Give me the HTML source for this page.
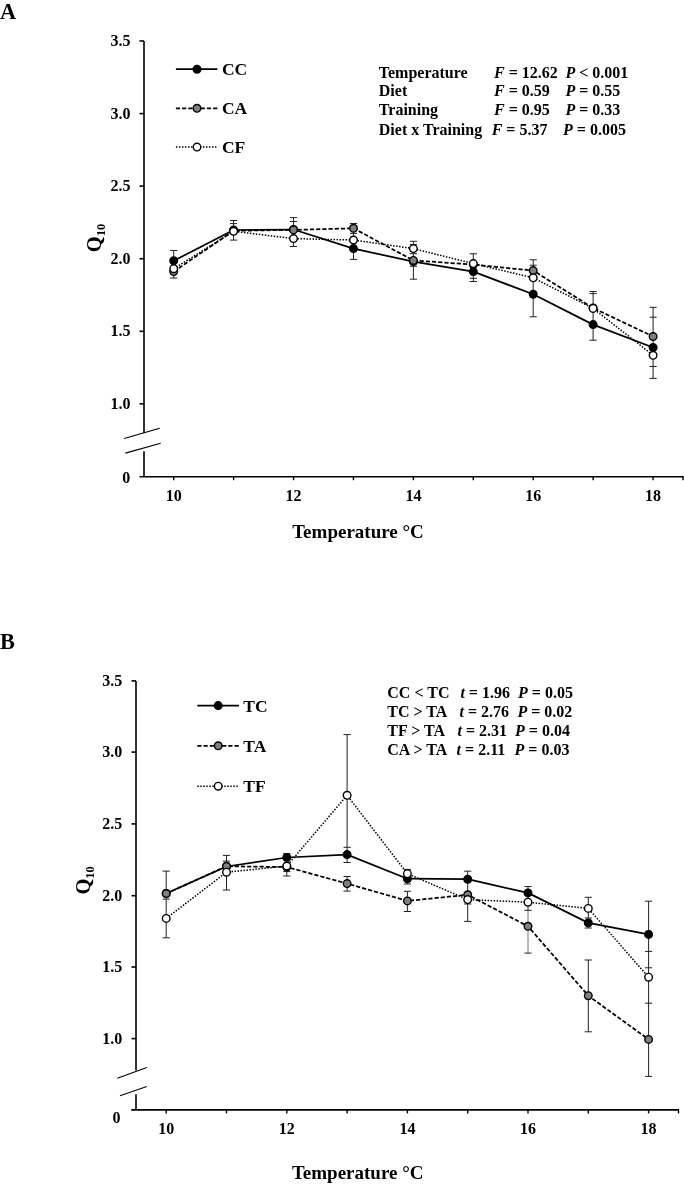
<!DOCTYPE html>
<html><head><meta charset="utf-8"><style>
html,body{margin:0;padding:0;background:#fff;}
svg{display:block;will-change:transform;font-family:"Liberation Serif", serif;font-weight:bold;}
</style></head><body>
<svg width="684" height="1185" viewBox="0 0 684 1185">
<rect width="684" height="1185" fill="#fff"/>
<text x="0.0" y="18.7" font-size="22.3" text-anchor="start" style="" >A</text>
<path d="M144,41 V432.9 M144,451.2 V476.7" stroke="#000" stroke-width="1.6" fill="none"/>
<path d="M139.5,476.7 H683.7" stroke="#000" stroke-width="1.6" fill="none"/>
<path d="M139.5,41.0 H144" stroke="#000" stroke-width="1.6"/>
<path d="M139.5,113.6 H144" stroke="#000" stroke-width="1.6"/>
<path d="M139.5,186.1 H144" stroke="#000" stroke-width="1.6"/>
<path d="M139.5,258.7 H144" stroke="#000" stroke-width="1.6"/>
<path d="M139.5,331.3 H144" stroke="#000" stroke-width="1.6"/>
<path d="M139.5,403.8 H144" stroke="#000" stroke-width="1.6"/>
<path d="M173.7,476.7 V480.2" stroke="#000" stroke-width="1.4"/>
<path d="M233.62,476.7 V480.2" stroke="#000" stroke-width="1.4"/>
<path d="M293.53999999999996,476.7 V480.2" stroke="#000" stroke-width="1.4"/>
<path d="M353.46,476.7 V480.2" stroke="#000" stroke-width="1.4"/>
<path d="M413.38,476.7 V480.2" stroke="#000" stroke-width="1.4"/>
<path d="M473.3,476.7 V480.2" stroke="#000" stroke-width="1.4"/>
<path d="M533.22,476.7 V480.2" stroke="#000" stroke-width="1.4"/>
<path d="M593.14,476.7 V480.2" stroke="#000" stroke-width="1.4"/>
<path d="M653.06,476.7 V480.2" stroke="#000" stroke-width="1.4"/>
<path d="M683.0,476.7 V480.2" stroke="#000" stroke-width="1.4"/>
<path d="M124.2,438.5 L159.7,428.2" stroke="#000" stroke-width="1.1"/>
<path d="M125.4,453.1 L160.7,443.3" stroke="#000" stroke-width="1.1"/>
<text x="130.5" y="45.9" font-size="16" text-anchor="end" style="" >3.5</text>
<text x="130.5" y="118.5" font-size="16" text-anchor="end" style="" >3.0</text>
<text x="130.5" y="191.0" font-size="16" text-anchor="end" style="" >2.5</text>
<text x="130.5" y="263.6" font-size="16" text-anchor="end" style="" >2.0</text>
<text x="130.5" y="336.2" font-size="16" text-anchor="end" style="" >1.5</text>
<text x="130.5" y="408.7" font-size="16" text-anchor="end" style="" >1.0</text>
<text x="130.3" y="483.4" font-size="16" text-anchor="end" style="" >0</text>
<text x="173.7" y="500.7" font-size="16" text-anchor="middle" style="" >10</text>
<text x="293.5" y="500.7" font-size="16" text-anchor="middle" style="" >12</text>
<text x="413.4" y="500.7" font-size="16" text-anchor="middle" style="" >14</text>
<text x="533.2" y="500.7" font-size="16" text-anchor="middle" style="" >16</text>
<text x="653.1" y="500.7" font-size="16" text-anchor="middle" style="" >18</text>
<text x="358.0" y="537.6" font-size="19" text-anchor="middle" style="" >Temperature °C</text>
<text transform="translate(101.3,252.3) rotate(-90)" font-size="20.5">Q<tspan font-size="12.5" dy="3.5">10</tspan></text>
<path d="M173.7,250.5 V278.0" stroke="#222" stroke-width="1.0" fill="none"/>
<path d="M170.1,250.5 H177.3 M170.1,278.0 H177.3" stroke="#222" stroke-width="1.0" fill="none"/>
<path d="M233.6,220.5 V240.1" stroke="#222" stroke-width="1.0" fill="none"/>
<path d="M230.0,220.5 H237.2 M230.0,223.6 H237.2 M230.0,240.1 H237.2" stroke="#222" stroke-width="1.0" fill="none"/>
<path d="M293.5,217.6 V246.5" stroke="#222" stroke-width="1.0" fill="none"/>
<path d="M289.9,217.6 H297.1 M289.9,221.5 H297.1 M289.9,246.5 H297.1" stroke="#222" stroke-width="1.0" fill="none"/>
<path d="M353.5,223.5 V259.4" stroke="#222" stroke-width="1.0" fill="none"/>
<path d="M349.9,223.5 H357.1 M349.9,233.4 H357.1 M349.9,259.4 H357.1" stroke="#222" stroke-width="1.0" fill="none"/>
<path d="M413.4,241.3 V279.2" stroke="#222" stroke-width="1.0" fill="none"/>
<path d="M409.8,241.3 H417.0 M409.8,244.6 H417.0 M409.8,253.7 H417.0 M409.8,266.3 H417.0 M409.8,279.2 H417.0" stroke="#222" stroke-width="1.0" fill="none"/>
<path d="M473.3,253.8 V281.5" stroke="#222" stroke-width="1.0" fill="none"/>
<path d="M469.7,253.8 H476.9 M469.7,278.3 H476.9 M469.7,281.5 H476.9" stroke="#222" stroke-width="1.0" fill="none"/>
<path d="M533.2,259.8 V316.8" stroke="#222" stroke-width="1.0" fill="none"/>
<path d="M529.6,259.8 H536.8 M529.6,265.2 H536.8 M529.6,316.8 H536.8" stroke="#222" stroke-width="1.0" fill="none"/>
<path d="M593.1,291.5 V340.2" stroke="#222" stroke-width="1.0" fill="none"/>
<path d="M589.5,291.5 H596.7 M589.5,293.6 H596.7 M589.5,340.2 H596.7" stroke="#222" stroke-width="1.0" fill="none"/>
<path d="M653.1,307.3 V378.4" stroke="#222" stroke-width="1.0" fill="none"/>
<path d="M649.5,307.3 H656.7 M649.5,317.2 H656.7 M649.5,366.5 H656.7 M649.5,378.4 H656.7" stroke="#222" stroke-width="1.0" fill="none"/>
<polyline points="173.7,260.8 233.6,230.0 293.5,229.5 353.5,248.6 413.4,261.6 473.3,271.6 533.2,294.3 593.1,324.6 653.1,347.5" fill="none" stroke="#000" stroke-width="1.75" stroke-linejoin="round"/>
<polyline points="173.7,271.6 233.6,230.8 293.5,229.9 353.5,228.3 413.4,260.4 473.3,264.6 533.2,270.6 593.1,308.0 653.1,336.5" fill="none" stroke="#000" stroke-width="1.75" stroke-dasharray="4.2,2.0" stroke-linejoin="round"/>
<polyline points="173.7,268.7 233.6,231.3 293.5,238.6 353.5,240.0 413.4,248.6 473.3,263.6 533.2,277.8 593.1,308.4 653.1,355.3" fill="none" stroke="#000" stroke-width="1.5" stroke-dasharray="1.5,1.5" stroke-linejoin="round"/>
<circle cx="173.7" cy="260.8" r="3.8" fill="#000" stroke="#000" stroke-width="1.4"/>
<circle cx="233.6" cy="230.0" r="3.8" fill="#000" stroke="#000" stroke-width="1.4"/>
<circle cx="293.5" cy="229.5" r="3.8" fill="#000" stroke="#000" stroke-width="1.4"/>
<circle cx="353.5" cy="248.6" r="3.8" fill="#000" stroke="#000" stroke-width="1.4"/>
<circle cx="413.4" cy="261.6" r="3.8" fill="#000" stroke="#000" stroke-width="1.4"/>
<circle cx="473.3" cy="271.6" r="3.8" fill="#000" stroke="#000" stroke-width="1.4"/>
<circle cx="533.2" cy="294.3" r="3.8" fill="#000" stroke="#000" stroke-width="1.4"/>
<circle cx="593.1" cy="324.6" r="3.8" fill="#000" stroke="#000" stroke-width="1.4"/>
<circle cx="653.1" cy="347.5" r="3.8" fill="#000" stroke="#000" stroke-width="1.4"/>
<circle cx="173.7" cy="271.6" r="3.8" fill="#808080" stroke="#000" stroke-width="1.4"/>
<circle cx="233.6" cy="230.8" r="3.8" fill="#808080" stroke="#000" stroke-width="1.4"/>
<circle cx="293.5" cy="229.9" r="3.8" fill="#808080" stroke="#000" stroke-width="1.4"/>
<circle cx="353.5" cy="228.3" r="3.8" fill="#808080" stroke="#000" stroke-width="1.4"/>
<circle cx="413.4" cy="260.4" r="3.8" fill="#808080" stroke="#000" stroke-width="1.4"/>
<circle cx="473.3" cy="264.6" r="3.8" fill="#808080" stroke="#000" stroke-width="1.4"/>
<circle cx="533.2" cy="270.6" r="3.8" fill="#808080" stroke="#000" stroke-width="1.4"/>
<circle cx="593.1" cy="308.0" r="3.8" fill="#808080" stroke="#000" stroke-width="1.4"/>
<circle cx="653.1" cy="336.5" r="3.8" fill="#808080" stroke="#000" stroke-width="1.4"/>
<circle cx="173.7" cy="268.7" r="3.8" fill="#fff" stroke="#000" stroke-width="1.4"/>
<circle cx="233.6" cy="231.3" r="3.8" fill="#fff" stroke="#000" stroke-width="1.4"/>
<circle cx="293.5" cy="238.6" r="3.8" fill="#fff" stroke="#000" stroke-width="1.4"/>
<circle cx="353.5" cy="240.0" r="3.8" fill="#fff" stroke="#000" stroke-width="1.4"/>
<circle cx="413.4" cy="248.6" r="3.8" fill="#fff" stroke="#000" stroke-width="1.4"/>
<circle cx="473.3" cy="263.6" r="3.8" fill="#fff" stroke="#000" stroke-width="1.4"/>
<circle cx="533.2" cy="277.8" r="3.8" fill="#fff" stroke="#000" stroke-width="1.4"/>
<circle cx="593.1" cy="308.4" r="3.8" fill="#fff" stroke="#000" stroke-width="1.4"/>
<circle cx="653.1" cy="355.3" r="3.8" fill="#fff" stroke="#000" stroke-width="1.4"/>
<path d="M175.9,69.2 H217.4" stroke="#000" stroke-width="1.75"/>
<circle cx="197" cy="69.2" r="3.8" fill="#000" stroke="#000" stroke-width="1.4"/>
<text x="221.9" y="75.0" font-size="17.5" text-anchor="start" style="" >CC</text>
<path d="M175.9,108.3 H217.4" stroke="#000" stroke-width="1.75" stroke-dasharray="4.2,2.0"/>
<circle cx="197" cy="108.3" r="3.8" fill="#808080" stroke="#000" stroke-width="1.4"/>
<text x="221.9" y="114.1" font-size="17.5" text-anchor="start" style="" >CA</text>
<path d="M175.9,147.1 H217.4" stroke="#000" stroke-width="1.5" stroke-dasharray="1.5,1.5"/>
<circle cx="197" cy="147.1" r="3.8" fill="#fff" stroke="#000" stroke-width="1.4"/>
<text x="221.9" y="152.9" font-size="17.5" text-anchor="start" style="" >CF</text>
<text x="378.8" y="77.5" font-size="16" text-anchor="start" style="" >Temperature</text>
<text x="494" y="77.5" font-size="16"><tspan font-style="italic">F</tspan> = 12.62</text>
<text x="565.4" y="77.5" font-size="16"><tspan font-style="italic">P</tspan> &lt; 0.001</text>
<text x="378.8" y="96.2" font-size="16" text-anchor="start" style="" >Diet</text>
<text x="494" y="96.2" font-size="16"><tspan font-style="italic">F</tspan> = 0.59</text>
<text x="565.4" y="96.2" font-size="16"><tspan font-style="italic">P</tspan> = 0.55</text>
<text x="378.8" y="115.3" font-size="16" text-anchor="start" style="" >Training</text>
<text x="494" y="115.3" font-size="16"><tspan font-style="italic">F</tspan> = 0.95</text>
<text x="565.4" y="115.3" font-size="16"><tspan font-style="italic">P</tspan> = 0.33</text>
<text x="378.8" y="134.6" font-size="16" text-anchor="start" style="" >Diet x Training</text>
<text x="491.7" y="134.6" font-size="16"><tspan font-style="italic">F</tspan> = 5.37</text>
<text x="563" y="134.6" font-size="16"><tspan font-style="italic">P</tspan> = 0.005</text>
<text x="0.0" y="648.9" font-size="22.3" text-anchor="start" style="" >B</text>
<path d="M136,680.9 V1070.4 M136,1094.3 V1109.9" stroke="#000" stroke-width="1.6" fill="none"/>
<path d="M131.2,1109.9 H679" stroke="#000" stroke-width="1.6" fill="none"/>
<path d="M131.5,680.9 H136" stroke="#000" stroke-width="1.6"/>
<path d="M131.5,752.1 H136" stroke="#000" stroke-width="1.6"/>
<path d="M131.5,823.9 H136" stroke="#000" stroke-width="1.6"/>
<path d="M131.5,895.7 H136" stroke="#000" stroke-width="1.6"/>
<path d="M131.5,967.0 H136" stroke="#000" stroke-width="1.6"/>
<path d="M131.5,1038.6 H136" stroke="#000" stroke-width="1.6"/>
<path d="M166.2,1109.9 V1113.4" stroke="#000" stroke-width="1.4"/>
<path d="M226.5,1109.9 V1113.4" stroke="#000" stroke-width="1.4"/>
<path d="M286.79999999999995,1109.9 V1113.4" stroke="#000" stroke-width="1.4"/>
<path d="M347.09999999999997,1109.9 V1113.4" stroke="#000" stroke-width="1.4"/>
<path d="M407.4,1109.9 V1113.4" stroke="#000" stroke-width="1.4"/>
<path d="M467.7,1109.9 V1113.4" stroke="#000" stroke-width="1.4"/>
<path d="M528.0,1109.9 V1113.4" stroke="#000" stroke-width="1.4"/>
<path d="M588.3,1109.9 V1113.4" stroke="#000" stroke-width="1.4"/>
<path d="M648.5999999999999,1109.9 V1113.4" stroke="#000" stroke-width="1.4"/>
<path d="M678.5,1109.9 V1113.4" stroke="#000" stroke-width="1.4"/>
<path d="M117.3,1078.2 L146.8,1067.5" stroke="#000" stroke-width="1.1"/>
<path d="M120.0,1095.7 L146.8,1086.5" stroke="#000" stroke-width="1.1"/>
<text x="122.3" y="685.8" font-size="16" text-anchor="end" style="" >3.5</text>
<text x="122.3" y="757.0" font-size="16" text-anchor="end" style="" >3.0</text>
<text x="122.3" y="828.8" font-size="16" text-anchor="end" style="" >2.5</text>
<text x="122.3" y="900.6" font-size="16" text-anchor="end" style="" >2.0</text>
<text x="122.3" y="971.9" font-size="16" text-anchor="end" style="" >1.5</text>
<text x="122.3" y="1043.5" font-size="16" text-anchor="end" style="" >1.0</text>
<text x="120.6" y="1122.6" font-size="16" text-anchor="end" style="" >0</text>
<text x="166.2" y="1134.0" font-size="16" text-anchor="middle" style="" >10</text>
<text x="286.8" y="1134.0" font-size="16" text-anchor="middle" style="" >12</text>
<text x="407.4" y="1134.0" font-size="16" text-anchor="middle" style="" >14</text>
<text x="528.0" y="1134.0" font-size="16" text-anchor="middle" style="" >16</text>
<text x="648.6" y="1134.0" font-size="16" text-anchor="middle" style="" >18</text>
<text x="357.7" y="1178.5" font-size="19" text-anchor="middle" style="" >Temperature °C</text>
<text transform="translate(90.2,894.6) rotate(-90)" font-size="20.5">Q<tspan font-size="12.5" dy="3.5">10</tspan></text>
<path d="M166.2,871.1 V937.8" stroke="#222" stroke-width="1.0" fill="none"/>
<path d="M162.6,871.1 H169.8 M162.6,899.1 H169.8 M162.6,937.8 H169.8" stroke="#222" stroke-width="1.0" fill="none"/>
<path d="M226.5,855.4 V890.0" stroke="#222" stroke-width="1.0" fill="none"/>
<path d="M222.9,855.4 H230.1 M222.9,861.1 H230.1 M222.9,890.0 H230.1" stroke="#222" stroke-width="1.0" fill="none"/>
<path d="M286.8,853.6 V876.0" stroke="#222" stroke-width="1.0" fill="none"/>
<path d="M283.2,853.6 H290.4 M283.2,871.6 H290.4 M283.2,876.0 H290.4" stroke="#222" stroke-width="1.0" fill="none"/>
<path d="M347.1,734.6 V862.5" stroke="#222" stroke-width="1.0" fill="none"/>
<path d="M347.1,876.5 V891.1" stroke="#222" stroke-width="1.0" fill="none"/>
<path d="M343.5,734.6 H350.7 M343.5,847.3 H350.7 M343.5,862.5 H350.7 M343.5,876.5 H350.7 M343.5,891.1 H350.7" stroke="#222" stroke-width="1.0" fill="none"/>
<path d="M407.4,869.4 V884.0" stroke="#222" stroke-width="1.0" fill="none"/>
<path d="M407.4,891.3 V911.5" stroke="#222" stroke-width="1.0" fill="none"/>
<path d="M403.8,869.4 H411.0 M403.8,884.0 H411.0 M403.8,891.3 H411.0 M403.8,911.5 H411.0" stroke="#222" stroke-width="1.0" fill="none"/>
<path d="M467.7,871.2 V921.4" stroke="#222" stroke-width="1.0" fill="none"/>
<path d="M464.1,871.2 H471.3 M464.1,904.0 H471.3 M464.1,921.4 H471.3" stroke="#222" stroke-width="1.0" fill="none"/>
<path d="M528.0,886.5 V910.3" stroke="#222" stroke-width="1.0" fill="none"/>
<path d="M528.0,910.3 V953.1" stroke="#777" stroke-width="1.0" fill="none"/>
<path d="M524.4,886.5 H531.6 M524.4,910.3 H531.6 M524.4,953.1 H531.6" stroke="#222" stroke-width="1.0" fill="none"/>
<path d="M588.3,897.3 V928.0" stroke="#222" stroke-width="1.0" fill="none"/>
<path d="M588.3,960.0 V1031.8" stroke="#222" stroke-width="1.0" fill="none"/>
<path d="M584.7,897.3 H591.9 M584.7,918.0 H591.9 M584.7,928.0 H591.9 M584.7,960.0 H591.9 M584.7,1031.8 H591.9" stroke="#222" stroke-width="1.0" fill="none"/>
<path d="M648.6,901.2 V1076.4" stroke="#222" stroke-width="1.0" fill="none"/>
<path d="M645.0,901.2 H652.2 M645.0,951.4 H652.2 M645.0,967.8 H652.2 M645.0,1003.2 H652.2 M645.0,1076.4 H652.2" stroke="#222" stroke-width="1.0" fill="none"/>
<polyline points="166.2,893.5 226.5,866.5 286.8,857.5 347.1,854.6 407.4,878.7 467.7,879.2 528.0,892.9 588.3,922.9 648.6,934.4" fill="none" stroke="#000" stroke-width="1.75" stroke-linejoin="round"/>
<polyline points="166.2,893.5 226.5,866.3 286.8,867.0 347.1,883.6 407.4,900.9 467.7,894.8 528.0,926.3 588.3,995.7 648.6,1039.4" fill="none" stroke="#000" stroke-width="1.75" stroke-dasharray="4.2,2.0" stroke-linejoin="round"/>
<polyline points="166.2,918.4 226.5,872.2 286.8,866.0 347.1,795.3 407.4,873.7 467.7,899.6 528.0,902.2 588.3,908.4 648.6,977.2" fill="none" stroke="#000" stroke-width="1.5" stroke-dasharray="1.5,1.5" stroke-linejoin="round"/>
<circle cx="166.2" cy="893.5" r="3.8" fill="#000" stroke="#000" stroke-width="1.4"/>
<circle cx="226.5" cy="866.5" r="3.8" fill="#000" stroke="#000" stroke-width="1.4"/>
<circle cx="286.8" cy="857.5" r="3.8" fill="#000" stroke="#000" stroke-width="1.4"/>
<circle cx="347.1" cy="854.6" r="3.8" fill="#000" stroke="#000" stroke-width="1.4"/>
<circle cx="407.4" cy="878.7" r="3.8" fill="#000" stroke="#000" stroke-width="1.4"/>
<circle cx="467.7" cy="879.2" r="3.8" fill="#000" stroke="#000" stroke-width="1.4"/>
<circle cx="528.0" cy="892.9" r="3.8" fill="#000" stroke="#000" stroke-width="1.4"/>
<circle cx="588.3" cy="922.9" r="3.8" fill="#000" stroke="#000" stroke-width="1.4"/>
<circle cx="648.6" cy="934.4" r="3.8" fill="#000" stroke="#000" stroke-width="1.4"/>
<circle cx="166.2" cy="893.5" r="3.8" fill="#808080" stroke="#000" stroke-width="1.4"/>
<circle cx="226.5" cy="866.3" r="3.8" fill="#808080" stroke="#000" stroke-width="1.4"/>
<circle cx="286.8" cy="867.0" r="3.8" fill="#808080" stroke="#000" stroke-width="1.4"/>
<circle cx="347.1" cy="883.6" r="3.8" fill="#808080" stroke="#000" stroke-width="1.4"/>
<circle cx="407.4" cy="900.9" r="3.8" fill="#808080" stroke="#000" stroke-width="1.4"/>
<circle cx="467.7" cy="894.8" r="3.8" fill="#808080" stroke="#000" stroke-width="1.4"/>
<circle cx="528.0" cy="926.3" r="3.8" fill="#808080" stroke="#000" stroke-width="1.4"/>
<circle cx="588.3" cy="995.7" r="3.8" fill="#808080" stroke="#000" stroke-width="1.4"/>
<circle cx="648.6" cy="1039.4" r="3.8" fill="#808080" stroke="#000" stroke-width="1.4"/>
<circle cx="166.2" cy="918.4" r="3.8" fill="#fff" stroke="#000" stroke-width="1.4"/>
<circle cx="226.5" cy="872.2" r="3.8" fill="#fff" stroke="#000" stroke-width="1.4"/>
<circle cx="286.8" cy="866.0" r="3.8" fill="#fff" stroke="#000" stroke-width="1.4"/>
<circle cx="347.1" cy="795.3" r="3.8" fill="#fff" stroke="#000" stroke-width="1.4"/>
<circle cx="407.4" cy="873.7" r="3.8" fill="#fff" stroke="#000" stroke-width="1.4"/>
<circle cx="467.7" cy="899.6" r="3.8" fill="#fff" stroke="#000" stroke-width="1.4"/>
<circle cx="528.0" cy="902.2" r="3.8" fill="#fff" stroke="#000" stroke-width="1.4"/>
<circle cx="588.3" cy="908.4" r="3.8" fill="#fff" stroke="#000" stroke-width="1.4"/>
<circle cx="648.6" cy="977.2" r="3.8" fill="#fff" stroke="#000" stroke-width="1.4"/>
<path d="M197.3,705.6 H239" stroke="#000" stroke-width="1.75"/>
<circle cx="218.2" cy="705.6" r="3.8" fill="#000" stroke="#000" stroke-width="1.4"/>
<text x="243.3" y="711.6" font-size="17.5" text-anchor="start" style="" >TC</text>
<path d="M197.3,745.8 H239" stroke="#000" stroke-width="1.75" stroke-dasharray="4.2,2.0"/>
<circle cx="218.2" cy="745.8" r="3.8" fill="#808080" stroke="#000" stroke-width="1.4"/>
<text x="243.3" y="751.8" font-size="17.5" text-anchor="start" style="" >TA</text>
<path d="M197.3,786.2 H239" stroke="#000" stroke-width="1.5" stroke-dasharray="1.5,1.5"/>
<circle cx="218.2" cy="786.2" r="3.8" fill="#fff" stroke="#000" stroke-width="1.4"/>
<text x="243.3" y="792.2" font-size="17.5" text-anchor="start" style="" >TF</text>
<text x="387.3" y="698.1" font-size="16" text-anchor="start" style="" >CC &lt; TC</text>
<text x="460.4" y="698.1" font-size="16"><tspan font-style="italic">t</tspan> = 1.96</text>
<text x="518" y="698.1" font-size="16"><tspan font-style="italic">P</tspan> = 0.05</text>
<text x="387.3" y="717.4" font-size="16" text-anchor="start" style="" >TC &gt; TA</text>
<text x="459.5" y="717.4" font-size="16"><tspan font-style="italic">t</tspan> = 2.76</text>
<text x="517.4" y="717.4" font-size="16"><tspan font-style="italic">P</tspan> = 0.02</text>
<text x="387.3" y="736.1" font-size="16" text-anchor="start" style="" >TF &gt; TA</text>
<text x="457.5" y="736.1" font-size="16"><tspan font-style="italic">t</tspan> = 2.31</text>
<text x="515" y="736.1" font-size="16"><tspan font-style="italic">P</tspan> = 0.04</text>
<text x="387.3" y="755.4" font-size="16" text-anchor="start" style="" >CA &gt; TA</text>
<text x="456.6" y="755.4" font-size="16"><tspan font-style="italic">t</tspan> = 2.11</text>
<text x="514.5" y="755.4" font-size="16"><tspan font-style="italic">P</tspan> = 0.03</text>
</svg>
</body></html>
